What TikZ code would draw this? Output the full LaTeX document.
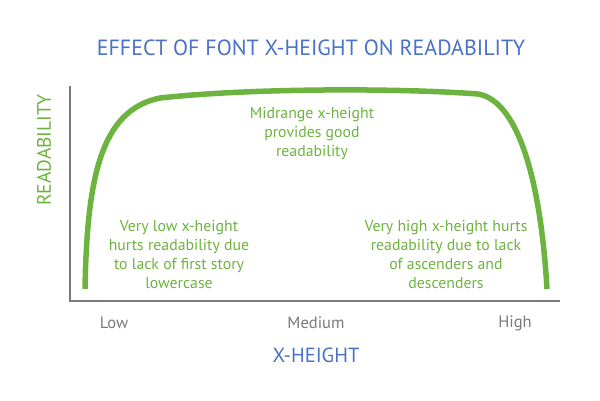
\documentclass[tikz,border=0pt]{standalone}
\usepackage{fontspec}
\setmainfont{PT Sans}
\definecolor{tblue}{HTML}{4A72C4}
\definecolor{tgreen}{HTML}{6DB33F}
\definecolor{tgray}{HTML}{7A7A7A}
\begin{document}
\begin{tikzpicture}[x=1pt,y=-1pt,
  title/.style={text=tblue,font=\fontsize{22}{24}\selectfont,inner sep=0pt},
  note/.style={text=tgreen,font=\fontsize{15.8}{19}\selectfont,align=center,inner sep=0pt},
  tick/.style={text=tgray,font=\fontsize{16.5}{18}\selectfont,inner sep=0pt},
  axis/.style={draw=tgray,line width=1.6pt},
  curve/.style={draw=tgreen,line width=5.5pt}]
\useasboundingbox (0,0) rectangle (600,400);
\node[title] (ttl) at (311,48) {EFFECT OF FONT X-HEIGHT ON READABILITY};
\node[title,text=tgreen,rotate=90,font=\fontsize{19.5}{22}\selectfont] (ylab) at (44,150) {READABILITY};
\node[title,font=\fontsize{20.5}{22}\selectfont] (xlab) at (316,355) {X-HEIGHT};
\coordinate (top) at (70,86);
\coordinate (origin) at (70,301);
\coordinate (right) at (560,301);
\draw[axis] (top) -- (origin) -- (right);
\coordinate (c0) at (85,289);
\coordinate (c1) at (160,98);
\coordinate (c2) at (478,94);
\coordinate (c3) at (547,289);
\draw[curve] (c0) .. controls (87,180) and (100,110) .. (c1)
  .. controls (250,88) and (400,88) .. (c2)
  .. controls (515,100) and (540,170) .. (c3);
\node[tick] (low) at (114,323) {Low};
\node[tick] (med) at (316,323) {Medium};
\node[tick] (high) at (515,323) {High};
\node[note] (mid) at (312,134) {Midrange x-height\\provides good\\readability};
\node[note] (lownote) at (179,254) {Very low x-height\\hurts readability due\\to lack of first story\\lowercase};
\node[note] (highnote) at (446,254) {Very high x-height hurts\\readability due to lack\\of ascenders and\\descenders};
\end{tikzpicture}
\end{document}
